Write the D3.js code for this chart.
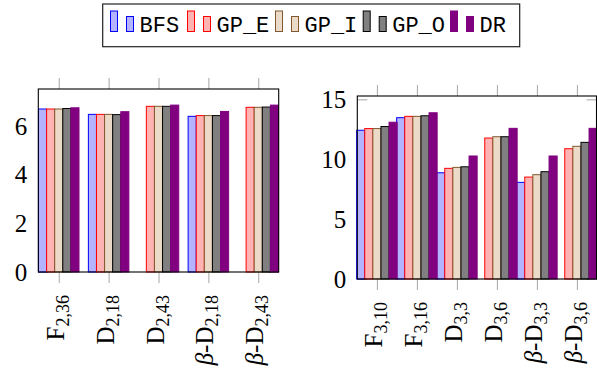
<!DOCTYPE html>
<html lang="en">
<head>
  <meta charset="UTF-8">
  <title>Grouped bars</title>
  <script src="https://d3js.org/d3.v7.min.js"></script>
  <style>
    body { margin: 0; background: #fff; }
    .tick line { stroke: #a6a6a6; }
    .ylab { font-family: "Liberation Serif", serif; font-size: 25px; fill: #000; }
    .xlab { font-family: "Liberation Serif", serif; fill: #000; }
    .leg { font-family: "Liberation Mono", monospace; font-size: 22px; fill: #000; }
  </style>
</head>
<body>
<script>
// series
const series = ["BFS", "GP_E", "GP_I", "GP_O", "DR"];
const fills = ["#b3b3ff", "#ffb3b3", "#ecdac8", "#808080", "#800080"];
const strokes = ["#0000ff", "#ff0000", "#80592f", "#000000", "#800080"];

// left chart
const leftCats = ["F_2,36", "D_2,18", "D_2,43", "β-D_2,18", "β-D_2,43"];
const leftBFS = [6.68, 6.46, null, 6.38, null];
const leftGPE = [6.68, 6.46, 6.79, 6.41, 6.75];
const leftGPI = [6.68, 6.46, 6.79, 6.41, 6.75];
const leftGPO = [6.70, 6.45, 6.79, 6.41, 6.76];
const leftDR  = [6.73, 6.57, 6.84, 6.58, 6.84];
const leftTicks = [0, 2, 4, 6];

// right chart
const rightCats = ["F_3,10", "F_3,16", "D_3,3", "D_3,6", "β-D_3,3", "β-D_3,6"];
const rightBFS = [12.42, 13.47, 8.87, null, 8.07, null];
const rightGPE = [12.56, 13.58, 9.24, 11.77, 8.51, 10.88];
const rightGPI = [12.56, 13.58, 9.32, 11.88, 8.71, 11.08];
const rightGPO = [12.73, 13.63, 9.37, 11.88, 8.96, 11.41];
const rightDR  = [13.09, 13.88, 10.27, 12.58, 10.27, 12.58];
const rightTicks = [0, 5, 10, 15];

const svg = d3.select("body").append("svg")
  .attr("width", 597).attr("height", 375);

const bw = 8.1;

function panel(o) {
  const g = svg.append("g");
  const x = d3.scalePoint().domain(o.cats).range([o.left, o.right]).padding(o.pad);
  const y = d3.scaleLinear().domain([0, o.ymax]).range([o.bottom, o.top]);

  // ticks (under the bars)
  g.append("g").attr("transform", `translate(0,${o.bottom})`)
    .call(d3.axisBottom(x).tickSize(11).tickFormat(""))
    .call(a => a.select(".domain").remove());
  g.append("g").attr("transform", `translate(0,${o.top})`)
    .call(d3.axisTop(x).tickSize(11).tickFormat(""))
    .call(a => a.select(".domain").remove());
  g.append("g").attr("transform", `translate(${o.left},0)`)
    .call(d3.axisLeft(y).tickValues(o.yticks).tickSize(-10).tickPadding(11))
    .call(a => a.select(".domain").remove())
    .call(a => a.selectAll("text").attr("class", "ylab").attr("font-size", null)
      .attr("font-family", null).attr("dy", "0.34em"));
  g.append("g").attr("transform", `translate(${o.right},0)`)
    .call(d3.axisRight(y).tickValues(o.yticks).tickSize(-10).tickFormat(""))
    .call(a => a.select(".domain").remove());

  // bars
  o.vals.forEach((arr, si) => {
    g.append("g").selectAll("rect")
      .data(arr.map((v, i) => ({ v, c: o.cats[i] })).filter(d => d.v != null))
      .join("rect")
      .attr("x", d => x(d.c) - 2.5 * bw + si * bw)
      .attr("y", d => y(d.v))
      .attr("width", bw)
      .attr("height", d => y(0) - y(d.v))
      .attr("fill", fills[si])
      .attr("stroke", strokes[si])
      .attr("stroke-width", 1);
  });

  // box
  g.append("rect")
    .attr("x", o.left).attr("y", o.top)
    .attr("width", o.right - o.left).attr("height", o.bottom - o.top)
    .attr("fill", "none").attr("stroke", "#000").attr("stroke-width", 1.1);

  // rotated category labels
  o.cats.forEach(c => {
    const [main, sub] = c.split("_");
    const t = g.append("text").attr("class", "xlab")
      .attr("text-anchor", "end")
      .attr("transform", `translate(${x(c) + 5},${o.bottom + 23}) rotate(-90)`);
    if (main.startsWith("β-")) {
      t.append("tspan").attr("font-size", 25).attr("font-style", "italic").text("β");
      t.append("tspan").attr("font-size", 25).text("-" + main.slice(2));
    } else {
      t.append("tspan").attr("font-size", 25).text(main);
    }
    t.append("tspan").attr("font-size", 18).attr("dy", 5).text(sub);
  });
}

panel({ cats: leftCats, vals: [leftBFS, leftGPE, leftGPI, leftGPO, leftDR],
  left: 38.3, right: 278.7, top: 89, bottom: 272, ymax: 7.5, yticks: leftTicks, pad: 0.41 });
panel({ cats: rightCats, vals: [rightBFS, rightGPE, rightGPI, rightGPO, rightDR],
  left: 357.3, right: 596.5, top: 96, bottom: 279, ymax: 15.28, yticks: rightTicks, pad: 0.49 });

// legend
const leg = svg.append("g");
leg.append("rect").attr("x", 102.7).attr("y", 4).attr("width", 417).attr("height", 42.7)
  .attr("fill", "#fff").attr("stroke", "#222").attr("stroke-width", 1.2);
const legX = [110, 187, 275, 362.7, 450];
series.forEach((s, i) => {
  const e = leg.append("g").attr("transform", `translate(${legX[i]},0)`);
  e.append("rect").attr("x", 0.5).attr("y", 11).attr("width", 7).attr("height", 20.5)
    .attr("fill", fills[i]).attr("stroke", strokes[i]);
  e.append("rect").attr("x", 16.5).attr("y", 16.5).attr("width", 7).attr("height", 15)
    .attr("fill", fills[i]).attr("stroke", strokes[i]);
  e.append("text").attr("class", "leg").attr("x", 29.5).attr("y", 32).text(s);
});
</script>
</body>
</html>
